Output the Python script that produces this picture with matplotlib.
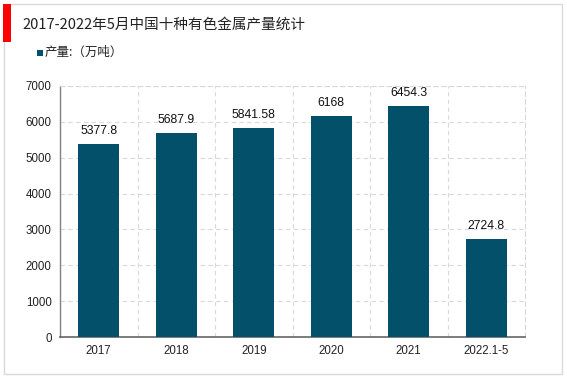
import matplotlib
matplotlib.use("Agg")
import matplotlib.pyplot as plt
from matplotlib.patches import Rectangle

plt.rcParams['font.family'] = ['Liberation Sans', 'Noto Sans CJK SC', 'DejaVu Sans']

categories = ["2017", "2018", "2019", "2020", "2021", "2022.1-5"]
values = [5377.8, 5687.9, 5841.58, 6168, 6454.3, 2724.8]
value_labels = ["5377.8", "5687.9", "5841.58", "6168", "6454.3", "2724.8"]
yticks = [0, 1000, 2000, 3000, 4000, 5000, 6000, 7000]
title = "2017-2022年5月中国十种有色金属产量统计"
legend_label = "产量:（万吨）"

W, H = 567, 378
fig = plt.figure(figsize=(W / 100, H / 100), dpi=100)
fig.patch.set_facecolor("white")

# outer border and red accent
fig.add_artist(Rectangle((4 / W, 1 - 374 / H), 558 / W, 370 / H, transform=fig.transFigure,
                         fill=False, edgecolor="#d9d9d9", linewidth=1))
fig.add_artist(Rectangle((3 / W, 1 - 42 / H), 8 / W, 38 / H, transform=fig.transFigure,
                         facecolor="#ff0000", edgecolor="none"))
fig.text(22 / W, 1 - 25 / H, title, fontsize=10.5, va="center", ha="left",
         family=['Noto Sans CJK SC', 'DejaVu Sans'], color="#222222", fontweight="light")

bar_color = "#03506b"
fig.add_artist(Rectangle((37 / W, 1 - 56 / H), 6 / W, 6 / H, transform=fig.transFigure,
                         facecolor=bar_color, edgecolor="none"))
fig.text(45 / W, 1 - 52.5 / H, legend_label, fontsize=9, va="center", ha="left",
         family=['Noto Sans CJK SC', 'DejaVu Sans'], color="#222222")

ax = fig.add_axes([60 / W, 1 - 337 / H, (525 - 60) / W, (337 - 86) / H])
x = list(range(len(categories)))
bars = ax.bar(x, values, width=0.53, color=bar_color, zorder=3)
for xi, v, lab in zip(x, values, value_labels):
    ax.annotate(lab, (xi, v), xytext=(0, 5), textcoords="offset points",
                ha="center", va="bottom", fontsize=8.8, color="#111111")

ax.set_xlim(-0.5, len(categories) - 0.5)
ax.set_ylim(0, 7000)
ax.set_yticks(yticks)
ax.set_yticklabels([str(t) for t in yticks], fontsize=8.3, color="#222222")
ax.set_xticks(x)
ax.set_xticklabels(categories, fontsize=8.3, color="#222222")
ax.tick_params(length=0, pad=6)
ax.set_xticks([i + 0.5 for i in x[:-1]], minor=True)
ax.grid(True, axis="y", which="major", linestyle=(0, (4, 3)), color="#d9d9d9", linewidth=0.8, zorder=0)
ax.grid(True, axis="x", which="minor", linestyle=(0, (4, 3)), color="#d9d9d9", linewidth=0.8, zorder=0)
ax.tick_params(which="minor", length=0)
for s in ["top", "right"]:
    ax.spines[s].set_color("#d9d9d9")
    ax.spines[s].set_linewidth(0.8)
    ax.spines[s].set_linestyle((0, (4, 3)))
ax.spines["left"].set_color("#808080")
ax.spines["bottom"].set_color("#666666")
ax.spines["left"].set_linewidth(1.0)
ax.spines["bottom"].set_linewidth(1.2)

fig.savefig("out.png", dpi=100)
